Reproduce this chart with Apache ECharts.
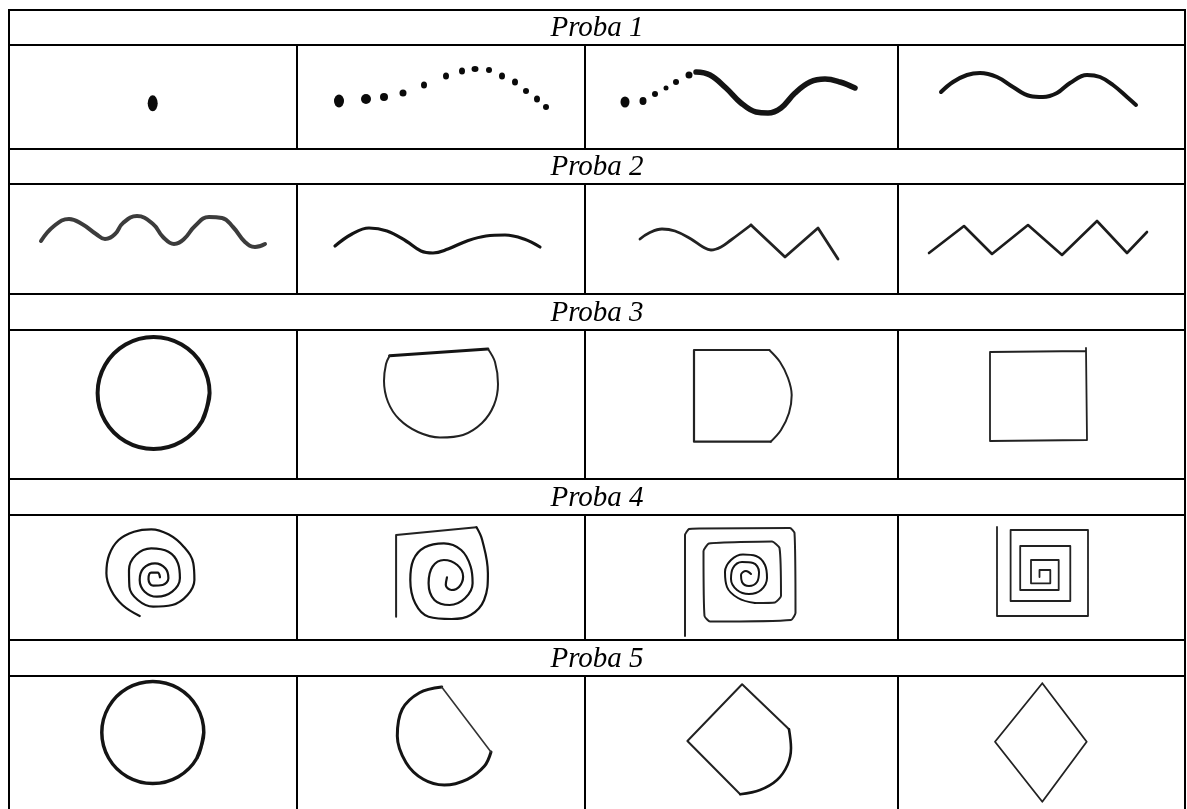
<!DOCTYPE html>
<html>
<head>
<meta charset="utf-8">
<script src="https://cdn.jsdelivr.net/npm/echarts@6/dist/echarts.min.js"></script>
<style>html,body{margin:0;padding:0;background:#fff}#c{width:1187px;height:809px}</style>
</head>
<body>
<div id="c"></div>
<script>
// ---- table structure ----
const colX = [9, 297, 585, 898, 1185];
const rowY = [10, 45, 149, 184, 294, 330, 479, 515, 640, 676, 812];
const headers = ['Proba 1', 'Proba 2', 'Proba 3', 'Proba 4', 'Proba 5'];

// ---- drawings: points in cell-local units (from cell top-left) ----
// Proba 1
const p1c1Dot = [[143.7, 58.3]];
const p1c1DotSize = [[10, 16]];
const p1c2Dots = [[42,56],[69,54],[87,52],[106,48],[127,40],[149,31],[165,26],[178,24],[192,25],[205,31],[218,37],[229,46],[240,54],[249,62]];
const p1c2DotSize = [[10,13],[10,10],[8,8],[7,7],[6,7],[6,7],[6,7],[7,6],[6,6],[6,7],[6,7],[6,6],[6,7],[6,6]];
const p1c3Dots = [[40,57],[58,56],[70,49],[81,43],[91,37],[104,30]];
const p1c3DotSize = [[9,11],[7,8],[6,6],[5,5],[6,6],[7,7]];
const p1c3Curve = [[111,27],[125,30],[141,43],[156,58],[171,67],[183,68],[196,63],[210,48],[225,37],[240,34],[255,37],[270,43]];
const p1c4Curve = [[43,47],[55,37],[69,30],[82,28],[99,32],[115,42],[132,51],[145,52],[159,48],[172,38],[189,30],[202,32],[215,40],[229,52],[238,60]];
// Proba 2
const p2c1Wave = [[32,57],[45,42],[60,35],[73,40],[87,50],[96,55],[106,50],[114,39],[128,32],[144,40],[154,53],[165,60],[175,55],[186,42],[200,33],[213,34],[224,43],[236,58],[246,63],[256,60]];
const p2c2Wave = [[38,62],[55,50],[72,44],[90,47],[109,57],[124,67],[136,69],[151,65],[170,57],[189,52],[208,51],[227,55],[243,63]];
const p2c3Wave = [[55,55],[64,49],[77,45],[90,47],[106,55],[118,63],[126,66],[136,63],[146,56],[166,41]];
const p2c3Zig = [[166,41],[200,73],[233,44],[253,75]];
const p2c4Zig = [[31,69],[66,42],[94,70],[130,41],[164,71],[199,37],[229,69],[249,48]];
// Proba 3
const p3c1Circle = [[200.6,63],[193.1,91],[172.6,111.5],[144.6,119],[116.6,111.5],[96.1,91],[88.6,63],[96.1,35],[116.6,14.5],[144.6,7],[172.6,14.5],[193.1,35],[200.6,63],[193.1,91]];
const p3c2Lid = [[92.6,25.7],[190.9,19]];
const p3c2Arc = [[191,19],[198,32],[201,54],[197,75],[185,93],[166,105],[143,107.5],[121,102],[102,89],[91,72],[87,51],[89,34],[92.6,25.7]];
const p3c3Box = [[185.7,111.7],[109,111.7],[109,20],[184.3,20]];
const p3c3Arc = [[184.3,20],[195,32],[203,48],[206.7,65],[204,83],[196,100],[185.7,111.7]];
const p3c4Square = [[188,18],[189,110],[92,111],[92,22],[188,21]];
// Proba 4
const p4c1Spiral = [[130.7,101],[113.5,90],[102,75],[97.4,58.3],[100.1,40],[109.6,25],[125,16.7],[142.2,14.3],[159.4,19.3],[174.7,31.7],[184.3,48.3],[185.4,65],[178.5,80],[163.2,90],[144.1,91.7],[128.8,85],[120.4,71.7],[120,55],[126.9,40],[142.2,33.3],[159.4,36.7],[169,48.3],[170.9,63.3],[163.2,76.7],[147.9,81.7],[135.7,76.7],[130.7,65],[134.5,53.3],[146,48.3],[156.3,53.3],[159.4,63.3],[153.6,70],[144.1,70.7],[139.5,64.3],[142.2,57.7],[148.7,57.7],[151,62.3]];
const p4c2Frame = [[99.1,101.7],[99.1,20],[179.5,12.3]];
const p4c2Spiral = [[179.5,12.3],[185.2,25],[190.9,58.3],[187.1,85],[173.7,100],[154.6,104],[131.6,101.7],[118.2,88.3],[113.3,65],[116.3,45],[127.8,32.3],[146.9,28.3],[164.2,35],[173.7,51.7],[175.6,68.3],[168,83.3],[152.7,90],[137.4,85],[131.6,68.3],[135.5,51.7],[146.9,45],[160.3,50],[166.1,61.7],[162.2,71.7],[154.6,75],[148.8,70],[150,62.3]];
const p4c3Frame = [[100,121],[100,20],[104,14],[115,13.5],[205,13],[209.5,18],[210.5,98],[206,105],[125,106.5],[119.5,101],[118.5,36],[124,28.5],[187,26.5],[194.5,33],[196,81],[190,87.5],[170,88]];
const p4c3Spiral = [[170,88],[153,83],[142,72],[140,57],[146,45],[158,39.5],[171,41],[180,50],[182,63],[176,75],[164,79],[152,75],[146,64],[148,53],[157,47],[168,48],[174,57],[172,67],[164,71],[157,67],[156,60],[161,56],[166,59]];
const p4c4Spiral = [[99,12],[99,101],[190,101],[190,15],[112.6,15],[112.6,86],[172.3,86],[172.3,31],[122.2,31],[122.2,75],[160.7,75],[160.7,45],[133,45],[133,68.3],[152.3,68.3],[152.3,55],[141.5,55],[141.5,62]];
// Proba 5
const p5c1Circle = [[194.8,56.5],[188,82],[169.3,100.7],[143.8,107.5],[118.3,100.7],[99.6,82],[92.8,56.5],[99.6,31],[118.3,12.3],[143.8,5.5],[169.3,12.3],[188,31],[194.8,56.5],[188,82]];
const p5c2Arc = [[144.7,11],[122.5,16.7],[105.2,33.3],[100.3,60],[109.1,86.7],[126.3,103.3],[147.3,109],[170.3,103.3],[187.5,90],[194,76]];
const p5c2Chord = [[194,76],[144.7,11]];
const p5c3Edges = [[204,53.3],[157.1,8.3],[102.4,65],[155.2,118.3]];
const p5c3Arc = [[155.2,118.3],[175,114],[192,104],[202.5,89],[206,72],[204,53.3]];
const p5c4Rhombus = [[144.3,7.3],[97,65.7],[144.3,125.7],[188.7,65.7],[144.3,7.3]];

// ---- build ----
function place(pts, c, r) {
  const ox = colX[c], oy = rowY[2 * r + 1];
  return pts.map(p => [ox + p[0], oy + p[1]]);
}
const INK = '#141414';
function stroke(pts, c, r, w, smooth, color) {
  return {
    type: 'line', data: place(pts, c, r), smooth: smooth || false, symbol: 'none',
    silent: true, animation: false, z: 3,
    lineStyle: { color: color || INK, width: w, cap: 'round', join: 'round' }
  };
}
function dots(pts, sizes, c, r) {
  return {
    type: 'scatter', silent: true, animation: false, z: 3,
    data: place(pts, c, r).map((v, i) => ({ value: v, symbolSize: sizes[i] })),
    symbol: 'circle', itemStyle: { color: '#0a0a0a', opacity: 1 }
  };
}
const series = [];
function seg(a, b) {
  series.push({ type: 'line', data: [a, b], symbol: 'none', silent: true, animation: false, z: 5,
    lineStyle: { color: '#000', width: 2, cap: 'square' } });
}
rowY.forEach(y => seg([colX[0], y], [colX[4], y]));
seg([colX[0], rowY[0]], [colX[0], rowY[rowY.length - 1]]);
seg([colX[4], rowY[0]], [colX[4], rowY[rowY.length - 1]]);
for (let r = 0; r < 5; r++) {
  for (let c = 1; c < 4; c++) seg([colX[c], rowY[2 * r + 1]], [colX[c], rowY[2 * r + 2]]);
}
series.push({
  type: 'scatter', symbolSize: 0, silent: true, animation: false, z: 6,
  itemStyle: { opacity: 1, color: '#000' },
  data: headers.map((h, k) => [(colX[0] + colX[4]) / 2, (rowY[2 * k] + rowY[2 * k + 1]) / 2 + 1, h]),
  label: { show: true, position: 'inside', formatter: p => p.data[2], color: '#000', opacity: 1,
    fontFamily: '"Liberation Serif", "Times New Roman", serif', fontStyle: 'italic', fontSize: 29 }
});

series.push(dots(p1c1Dot, p1c1DotSize, 0, 0));
series.push(dots(p1c2Dots, p1c2DotSize, 1, 0));
series.push(dots(p1c3Dots, p1c3DotSize, 2, 0));
series.push(stroke(p1c3Curve, 2, 0, 5.5, 0.4));
series.push(stroke(p1c4Curve, 3, 0, 4, 0.4));

series.push(stroke(p2c1Wave, 0, 1, 4, 0.45, '#3c3c3c'));
series.push(stroke(p2c2Wave, 1, 1, 3.2, 0.4));
series.push(stroke(p2c3Wave, 2, 1, 2.8, 0.4, '#222'));
series.push(stroke(p2c3Zig, 2, 1, 2.8, false, '#222'));
series.push(stroke(p2c4Zig, 3, 1, 2.6, false, '#1c1c1c'));

series.push(stroke(p3c1Circle, 0, 2, 4, 0.35));
series.push(stroke(p3c2Lid, 1, 2, 3, false));
series.push(stroke(p3c2Arc, 1, 2, 2, 0.35, '#222'));
series.push(stroke(p3c3Box, 2, 2, 2.2, false, '#222'));
series.push(stroke(p3c3Arc, 2, 2, 2, 0.35, '#222'));
series.push(stroke(p3c4Square, 3, 2, 1.8, false, '#222'));

series.push(stroke(p4c1Spiral, 0, 3, 2.2, 0.4));
series.push(stroke(p4c2Frame, 1, 3, 2, false, '#222'));
series.push(stroke(p4c2Spiral, 1, 3, 2.2, 0.4));
series.push(stroke(p4c3Frame, 2, 3, 2, 0.15, '#222'));
series.push(stroke(p4c3Spiral, 2, 3, 2, 0.4));
series.push(stroke(p4c4Spiral, 3, 3, 1.8, false, '#222'));

series.push(stroke(p5c1Circle, 0, 4, 3.5, 0.35));
series.push(stroke(p5c2Arc, 1, 4, 3, 0.35));
series.push(stroke(p5c2Chord, 1, 4, 1.6, false, '#333'));
series.push(stroke(p5c3Edges, 2, 4, 2, false, '#222'));
series.push(stroke(p5c3Arc, 2, 4, 2.6, 0.35));
series.push(stroke(p5c4Rhombus, 3, 4, 1.8, false, '#222'));

const chart = echarts.init(document.getElementById('c'), null, { renderer: 'canvas' });
chart.setOption({
  backgroundColor: '#fff',
  animation: false,
  grid: { left: 0, right: 0, top: 0, bottom: 0 },
  xAxis: { type: 'value', min: 0, max: 1187, show: false },
  yAxis: { type: 'value', min: 0, max: 809, inverse: true, show: false },
  series: series
});
</script>
</body>
</html>
